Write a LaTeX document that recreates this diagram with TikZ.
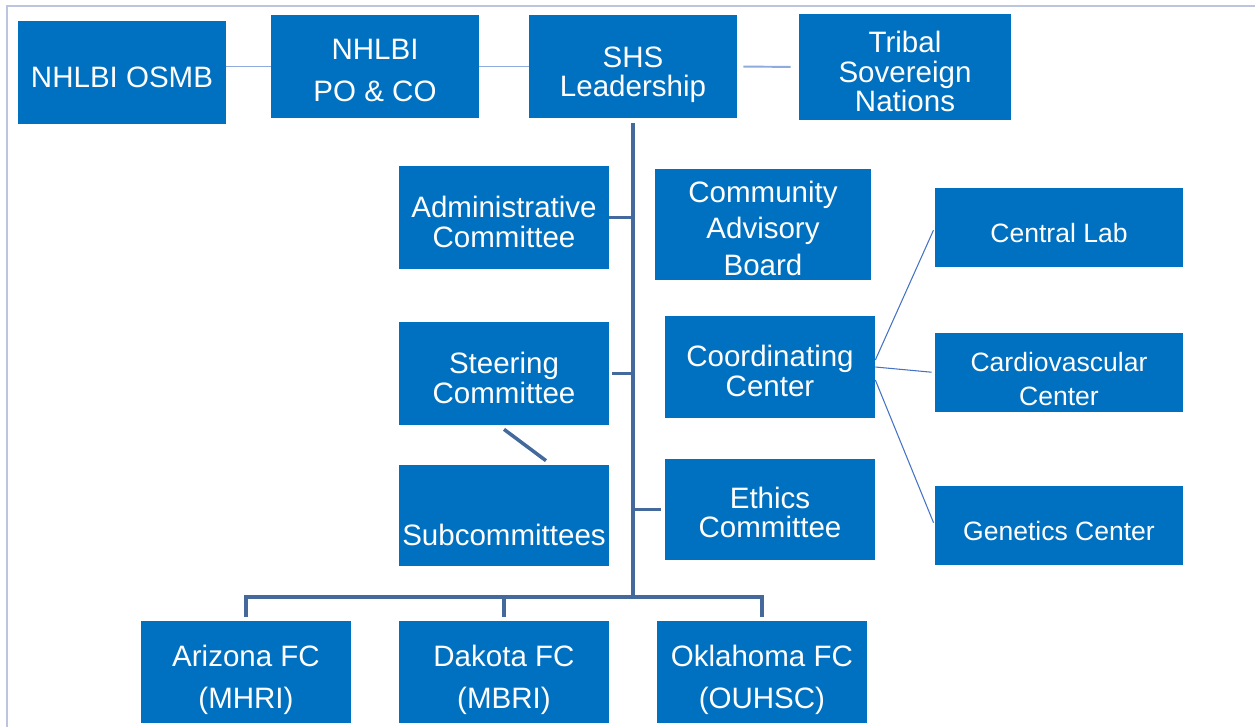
\documentclass[tikz,border=0pt]{standalone}
\usepackage{fontspec}
\setmainfont{Liberation Sans}
\usetikzlibrary{positioning}
\definecolor{boxblue}{RGB}{0,112,192}
\definecolor{trunkblue}{RGB}{68,105,157}
\definecolor{liteblue}{RGB}{143,170,220}
\definecolor{thinblue}{RGB}{68,114,196}
\definecolor{framegray}{RGB}{188,197,220}

\begin{document}
\begin{tikzpicture}[x=0.02cm,y=-0.02cm,node distance=5.16cm,on grid,
	box/.style={fill=boxblue,text=white,inner sep=0pt,align=center,minimum width=4.2cm,minimum height=2.06cm,font=\fontsize{16.8}{17}\selectfont,text height=33.6pt,text depth=0pt},
	side/.style={box,minimum width=4.96cm,minimum height=1.58cm,font=\fontsize{15.1}{18.8}\selectfont,text height=17.6pt},
	fc/.style={box,minimum height=2.04cm,font=\fontsize{16.8}{24}\selectfont,text height=42pt},
	trunk/.style={draw=trunkblue,line width=2pt},
	link/.style={draw=liteblue,line width=1.1pt},
	fan/.style={draw=thinblue,line width=0.6pt}]
	\useasboundingbox (0,0) rectangle (1255,727);
	\draw[framegray,line width=1pt] (7,727) -- (7,6) -- (1255,6);
	\node[box,minimum width=4.16cm,text height=17.6pt] (osmb) at (122,72.5) {NHLBI OSMB};
	\node[box,minimum width=4.16cm,font=\fontsize{16.8}{24}\selectfont,text height=40.4pt] (po_co) at (375,66.5) {NHLBI\\PO \& CO};
	\node[box,minimum width=4.16cm,text height=34.7pt] (shs) at (633,66.5) {SHS\\Leadership};
	\node[box,minimum width=4.24cm,minimum height=2.12cm,text height=51.2pt] (tribal) at (905,67) {Tribal\\Sovereign\\Nations};
	\node[box] (admin) at (504,217.5) {Administrative\\Committee};
	\node[box,minimum width=4.32cm,minimum height=2.22cm,font=\fontsize{16.8}{20.5}\selectfont,text height=57.5pt] (cab) at (763,224.5) {Community\\Advisory\\Board};
	\node[box] (steer) at (504,373.5) {Steering\\Committee};
	\node[box,minimum height=2.02cm] (subc) at (504,515.5) {Subcommittees};
	\node[box,minimum height=2.04cm] (coord) at (770,367) {Coordinating\\Center};
	\node[box,minimum height=2.02cm,text height=32.4pt] (ethics) at (770,509.5) {Ethics\\Committee};
	\node[side] (c_lab) at (1059,227.5) {Central Lab};
	\node[side,text height=37pt] (cardio) at (1059,372.5) {Cardiovascular\\Center};
	\node[side] (genet) at (1059,525.5) {Genetics Center};
	\node[fc] (fc_az) at (246,672) {Arizona FC\\(MHRI)};
	\node[fc] (fc_dak) [right=of fc_az] {Dakota FC\\(MBRI)};
	\node[fc] (fc_ok) [right=of fc_dak] {Oklahoma FC\\(OUHSC)};
	\coordinate (fork) at (633,597);
	\draw[link] (po_co.west) -- (po_co.west -| osmb.east);
	\draw[link] (po_co.east) -- (shs.west);
	\draw[link,shorten <=0.12cm,shorten >=0.16cm] (shs.east) -- (tribal.west);
	\draw[trunk,shorten <=0.1cm] (shs.south) -- (fork);
	\draw[trunk] (admin.east) -- (admin.east -| fork);
	\draw[trunk,shorten <=0.06cm] (steer.east) -- (steer.east -| fork);
	\draw[trunk,shorten >=0.08cm] (fork |- ethics.west) -- (ethics.west);
	\draw[trunk,shorten <=0.08cm,shorten >=0.08cm] (fc_az.north) |- (fc_ok.north |- fork) -- (fc_ok.north);
	\draw[trunk,shorten <=0.08cm] (fc_dak.north) -- (fc_dak.north |- fork);
	\draw[trunk] ([yshift=-0.08cm]steer.south) -- ([xshift=0.84cm,yshift=0.08cm]subc.north);
	\draw[fan,shorten >=0.06cm] ([yshift=0.14cm]coord.east) -- (c_lab.west);
	\draw[fan,shorten >=0.06cm] (coord.east) -- (cardio.west);
	\draw[fan,shorten >=0.06cm] ([yshift=-0.26cm]coord.east) -- (genet.west);
\end{tikzpicture}
\end{document}
